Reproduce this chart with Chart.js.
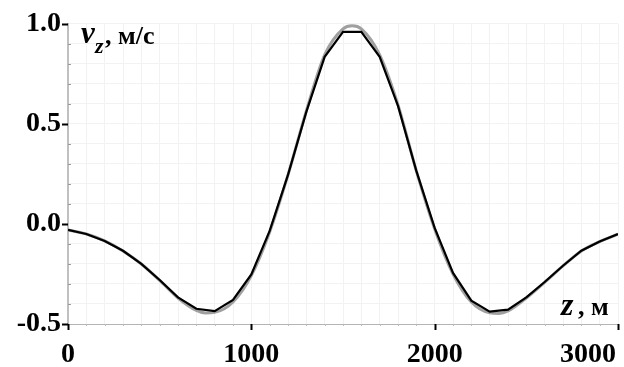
<!DOCTYPE html>
<html>
<head>
<meta charset="utf-8">
<script src="https://cdn.jsdelivr.net/npm/chart.js@4"></script>
<style>
  html, body { margin: 0; padding: 0; background: #fff; }
  #wrap { width: 624px; height: 367px; }
</style>
</head>
<body>
<div id="wrap"><canvas id="chart" width="624" height="367"></canvas></div>
<script>
// --- data ---
const zPoints = [0, 100, 200, 300, 400, 500, 600, 700, 800, 900, 1000, 1100, 1200, 1300, 1400, 1500,
  1600, 1700, 1800, 1900, 2000, 2100, 2200, 2300, 2400, 2500, 2600, 2700, 2800, 2900, 3000];
const vzSampled = [-0.03, -0.05, -0.085, -0.134, -0.2, -0.28, -0.367, -0.424, -0.436, -0.38, -0.252, -0.035,
  0.245, 0.56, 0.835, 0.96, 0.96, 0.835, 0.59, 0.265, -0.02, -0.245, -0.383, -0.438, -0.428, -0.367, -0.29,
  -0.209, -0.134, -0.088, -0.051];
const zSmooth = [0, 100, 200, 300, 400, 500, 600, 700, 750, 800, 900, 1000, 1100, 1200, 1300, 1400, 1500,
  1550, 1600, 1700, 1800, 1900, 2000, 2100, 2200, 2300, 2350, 2400, 2500, 2600, 2700, 2800, 2900, 3000];
const vzSmooth = [-0.03, -0.05, -0.085, -0.135, -0.2, -0.282, -0.37, -0.432, -0.445, -0.442, -0.39, -0.258,
  -0.04, 0.245, 0.565, 0.845, 0.975, 0.99, 0.975, 0.845, 0.595, 0.265, -0.025, -0.25, -0.39, -0.444, -0.447,
  -0.435, -0.37, -0.292, -0.21, -0.135, -0.088, -0.051];
const xMajorTicks = [0, 1000, 2000, 3000];
const yMajorTicks = [-0.5, 0.0, 0.5, 1.0];

const FONT = "'Liberation Serif', 'Times New Roman', serif";
const near = (v, list) => list.some(t => Math.abs(t - v) < 1e-6);

// axis ticks, x labels and axis titles drawn by hand
const decorations = {
  id: 'decorations',
  afterDraw(chart) {
    const { ctx, chartArea: a, scales: { x, y } } = chart;
    ctx.save();
    // minor / major ticks on x axis
    for (let v = 0; v <= 3000; v += 100) {
      const px = Math.round(x.getPixelForValue(v)) + 0.5;
      const major = near(v, xMajorTicks);
      ctx.strokeStyle = major ? '#000' : '#bbb';
      ctx.lineWidth = major ? 2 : 1;
      ctx.beginPath();
      ctx.moveTo(px, a.bottom);
      ctx.lineTo(px, a.bottom + (major ? 6 : 2));
      ctx.stroke();
    }
    // x labels, last one kept inside the canvas
    ctx.fillStyle = '#000';
    ctx.font = `bold 28px ${FONT}`;
    ctx.textBaseline = 'alphabetic';
    ctx.textAlign = 'left';
    xMajorTicks.forEach(v => {
      const txt = String(v);
      const w = ctx.measureText(txt).width;
      let left = x.getPixelForValue(v) - w / 2;
      left = Math.min(left, chart.width - 8 - w);
      ctx.fillText(txt, left, 362);
    });
    // ticks on y axis
    for (let i = -5; i <= 10; i++) {
      const v = i / 10;
      const py = Math.round(y.getPixelForValue(v)) + 0.5;
      const major = near(v, yMajorTicks);
      ctx.strokeStyle = major ? '#000' : '#999';
      ctx.lineWidth = major ? 2 : 1;
      ctx.beginPath();
      ctx.moveTo(a.left - (major ? 6 : 0), py);
      ctx.lineTo(a.left + (major ? 0 : 3), py);
      ctx.stroke();
    }
    // y title: v_z, м/с
    ctx.font = `italic bold 31px ${FONT}`;
    ctx.fillText('v', 81, 43);
    ctx.font = `italic bold 22px ${FONT}`;
    ctx.fillText('z', 95, 53);
    ctx.font = `bold 26px ${FONT}`;
    ctx.fillText(', м/с', 105, 44);
    // x title: z, м
    ctx.font = `italic bold 32px ${FONT}`;
    ctx.fillText('z', 561, 315);
    ctx.font = `bold 26px ${FONT}`;
    ctx.fillText(', м', 578, 315);
    ctx.restore();
  }
};

new Chart(document.getElementById('chart'), {
  type: 'scatter',
  data: {
    datasets: [
      {
        label: 'smooth',
        data: zSmooth.map((z, i) => ({ x: z, y: vzSmooth[i] })),
        showLine: true,
        borderColor: '#a0a0a0',
        borderWidth: 3,
        pointRadius: 0,
        tension: 0.4,
        cubicInterpolationMode: 'monotone',
        order: 2
      },
      {
        label: 'sampled',
        data: zPoints.map((z, i) => ({ x: z, y: vzSampled[i] })),
        showLine: true,
        borderColor: '#000',
        borderWidth: 2.2,
        pointRadius: 0,
        tension: 0,
        order: 1
      }
    ]
  },
  options: {
    responsive: false,
    animation: false,
    layout: { padding: { top: 22, right: 6, left: 0, bottom: 0 } },
    plugins: { legend: { display: false }, tooltip: { enabled: false } },
    scales: {
      x: {
        type: 'linear',
        min: 0,
        max: 3000,
        afterFit: s => { s.height = 43; s.paddingLeft = 0; s.paddingRight = 0; },
        border: { color: '#b5b5b5', width: 1 },
        grid: { color: '#f2f2f2', lineWidth: 1, drawTicks: false },
        ticks: {
          stepSize: 100,
          autoSkip: false,
          maxRotation: 0,
          display: false
        }
      },
      y: {
        min: -0.5,
        max: 1.0,
        afterFit: s => { s.width = 68; },
        border: { color: '#c0c0c0', width: 2 },
        grid: { color: '#f2f2f2', lineWidth: 1, drawTicks: false },
        ticks: {
          stepSize: 0.1,
          autoSkip: false,
          padding: 7,
          color: '#000',
          font: { family: FONT, size: 28, weight: 'bold' },
          callback: v => near(v, yMajorTicks) ? v.toFixed(1) : ''
        }
      }
    }
  },
  plugins: [decorations]
});
</script>
</body>
</html>
